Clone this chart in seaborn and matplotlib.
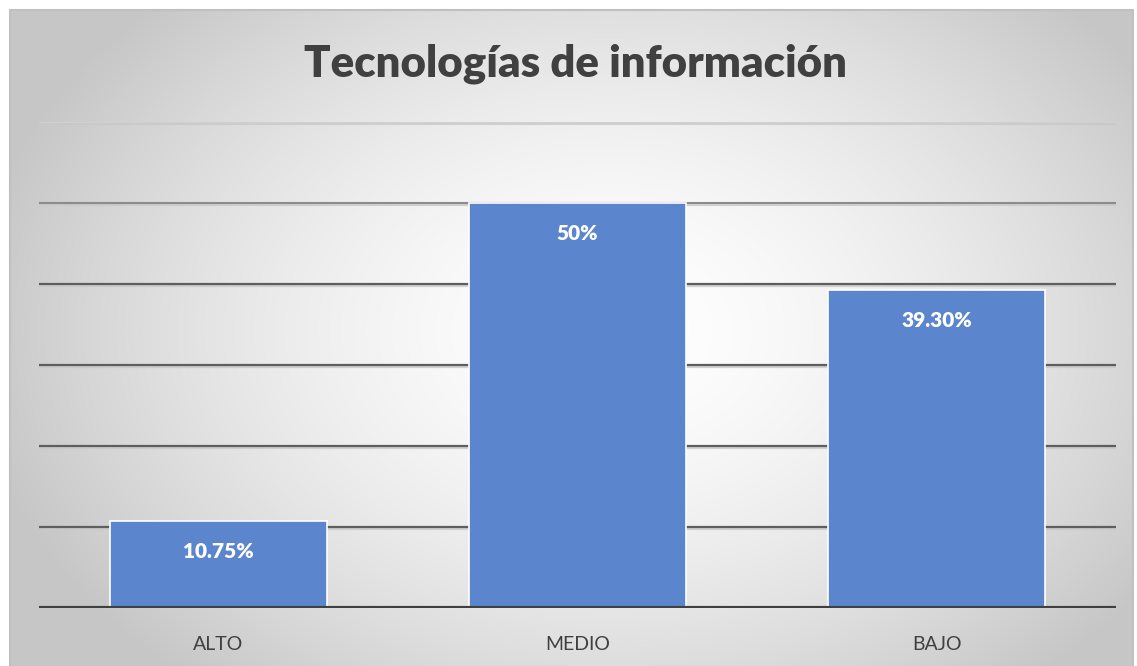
import numpy as np
import pandas as pd
import matplotlib
matplotlib.use("Agg")
import matplotlib.pyplot as plt
import matplotlib.patheffects as pe
import seaborn as sns

# datos del gráfico
categorias = ["ALTO", "MEDIO", "BAJO"]
valores = [10.75, 50.0, 39.30]
etiquetas = ["10.75%", "50%", "39.30%"]
titulo = "Tecnologías de información"

df = pd.DataFrame({"Nivel": categorias, "Porcentaje": valores})

sns.set_theme(style="white")
plt.rcParams["font.family"] = ["Lato", "DejaVu Sans"]

fig = plt.figure(figsize=(11.37, 6.66), dpi=100)

# ---------------------------
# fondo con degradado radial (estilo Excel)
# ---------------------------
bg = fig.add_axes([0, 0, 1, 1], zorder=-10)
W, H = 1137, 666
xx, yy = np.meshgrid(np.arange(W), np.arange(H))
d = np.sqrt(((xx - 610) / 640.0) ** 2 + ((yy - 330) / 460.0) ** 2)
g = 1.0 - 0.22 * np.clip(d, 0, 1) ** 1.6
img = np.dstack([g, g, g])
# margen blanco fuera del marco
img[:10, :, :] = 1.0
img[:, :10, :] = 1.0
img[:, 1133:, :] = 1.0
bg.imshow(img, aspect="auto", extent=[0, W, H, 0], interpolation="bilinear")
bg.plot([10, 1133, 1133], [10, 10, 666], color="#c0c0c0", lw=1.5)
bg.plot([10, 10], [10, 666], color="#c0c0c0", lw=1.5)
bg.set_xlim(0, W)
bg.set_ylim(H, 0)
bg.axis("off")

# ---------------------------
# gráfico de barras
# ---------------------------
ax = fig.add_axes([39 / W, 1 - 608 / H, (1116 - 39) / W, (608 - 122) / H])
ax.patch.set_alpha(0)

sombra = [pe.SimpleLineShadow(offset=(0, -1.5), shadow_color="#c8c8c8", alpha=0.8), pe.Normal()]
for v in [10, 20, 30, 40]:
    ax.axhline(v, color="#5e5e5e", lw=1.6, zorder=1, path_effects=sombra)
ax.axhline(50, color="#8c8c8c", lw=1.5, zorder=1, path_effects=sombra)
ax.axhline(60, color="#d0d0d0", lw=1.5, zorder=1, path_effects=sombra)

sns.barplot(data=df, x="Nivel", y="Porcentaje", color="#5B85CC", width=0.605,
            edgecolor="white", linewidth=1.2, saturation=1, ax=ax, zorder=2)

ax.axhline(0, color="#404040", lw=3, zorder=3)

for i, (v, t) in enumerate(zip(valores, etiquetas)):
    ax.text(i, v - 3.8, t, ha="center", va="center", color="white",
            fontsize=15, fontweight="heavy", zorder=4)

ax.set_ylim(0, 60)
ax.set_xlim(-0.5, 2.5)
ax.set_yticks([])
ax.set_xlabel("")
ax.set_ylabel("")
ax.tick_params(axis="x", length=0, pad=20, labelsize=14, labelcolor="#404040")
for s in ax.spines.values():
    s.set_visible(False)

fig.text(576 / W, 1 - 64 / H, titulo, ha="center", va="center",
         fontsize=31.5, fontweight="heavy", color="#404040")

fig.savefig("out.png", dpi=100)
